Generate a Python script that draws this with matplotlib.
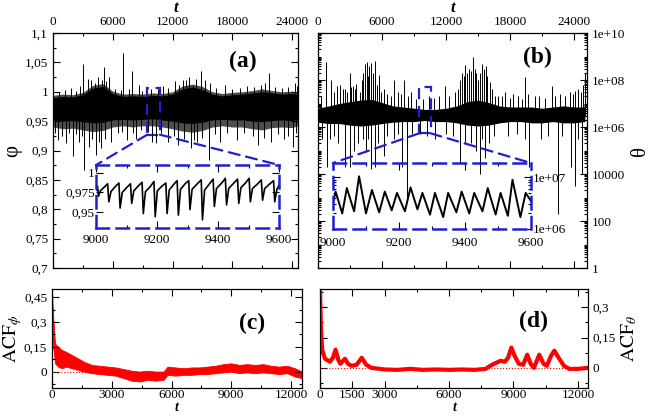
import numpy as np
import matplotlib.pyplot as plt
from matplotlib.patches import Rectangle, ConnectionPatch
from matplotlib.ticker import FixedLocator, MultipleLocator, LogLocator, NullFormatter

plt.rcParams['font.family'] = ['Liberation Serif', 'DejaVu Serif']
plt.rcParams['mathtext.fontset'] = 'stix'

# ---------------- (a) phi(t) ----------------
phi_t = [0, 1000, 2000, 3000, 4000, 5000, 6000, 7000, 8000, 9000, 10000, 11000, 12000,
         13000, 14000, 15000, 16000, 17000, 18000, 19000, 20000, 21000, 22000, 23000, 24000, 24600]
phi_core_hi = [.990, .992, .991, .995, 1.006, 1.009, .997, .992, .993, .992, .994, .993, .996,
               1.005, 1.008, 1.004, .996, .993, .995, .996, .998, 1.000, .998, .996, .997, .995]
phi_core_lo = [.952, .950, .951, .949, .947, .948, .952, .953, .952, .953, .954, .952, .950,
               .947, .946, .948, .952, .953, .952, .952, .950, .949, .951, .952, .951, .953]
phi_outer_hi = [.994, .996, .995, .999, 1.011, 1.014, 1.001, .996, .997, .996, .998, .997, 1.000,
                1.010, 1.013, 1.009, 1.000, .997, .999, 1.000, 1.002, 1.005, 1.002, 1.000, 1.001, .999]
phi_outer_lo = [.940, .937, .938, .935, .932, .934, .940, .942, .940, .942, .942, .940, .937,
                .933, .931, .934, .940, .942, .940, .940, .937, .935, .939, .940, .939, .942]
phi_up_t = [1800, 3000, 3500, 4200, 5100, 5600, 7050, 7950, 8600, 11000, 12200, 13400, 14100,
            14900, 17300, 19500, 21700, 23600, 24300,
            600, 1200, 2300, 2700, 3800, 4500, 4900, 5300, 6200, 6800, 7600, 8900, 9800, 10500,
            11500, 12700, 13100, 13700, 14400, 15300, 15800, 16400, 18000, 18800, 20200, 20900,
            21300, 22300, 23000, 24500]
phi_up_v = [1.006, 1.048, 1.022, 1.015, 1.042, 1.025, 1.066, 1.036, 1.012, 1.010, 1.018, 1.020, 1.012,
            1.035, 1.012, 1.010, 1.032, 1.008, 1.015,
            1.000, 1.003, 1.002, 1.010, 1.020, 1.025, 1.020, 1.018, 1.005, 1.003, 1.004, 1.002, 1.005, 1.004,
            1.006, 1.012, 1.020, 1.025, 1.022, 1.020, 1.015, 1.006, 1.005, 1.007, 1.008, 1.012,
            1.015, 1.008, 1.006, 1.010]
phi_dn_t = [500, 1300, 1970, 2600, 3100, 3600, 4300, 4800, 5800, 7400, 8300, 9900, 10300, 11500,
            12600, 13900, 14500, 15700, 16800, 18500, 20600, 21900, 23200, 24100,
            200, 900, 1600, 2300, 2900, 3900, 4600, 5200, 6500, 6900, 8000, 8800, 9500, 10800,
            12100, 13200, 14200, 15000, 16300, 17500, 19200, 20100, 21200, 22600, 23600, 24400]
phi_dn_v = [.918, .913, .890, .915, .867, .906, .893, .905, .915, .918, .920, .915, .912, .915,
            .910, .905, .915, .884, .915, .918, .910, .915, .920, .906,
            .930, .925, .930, .928, .925, .920, .915, .920, .930, .932, .930, .935, .932, .930,
            .925, .920, .918, .922, .928, .930, .930, .925, .922, .928, .925, .930]
phi_spike_base = 0.97

# inset (a): 9000-9600
phi_in_t = [9000, 9005, 9008, 9014, 9025, 9038, 9042, 9049, 9062, 9075, 9079, 9086, 9100, 9113,
            9117, 9124, 9138, 9151, 9155, 9162, 9177, 9190, 9194, 9201, 9216, 9229, 9233, 9240,
            9254, 9266, 9270, 9277, 9292, 9304, 9308, 9315, 9332, 9345, 9349, 9356, 9372, 9384,
            9388, 9395, 9412, 9424, 9428, 9435, 9452, 9464, 9468, 9475, 9490, 9502, 9506, 9513,
            9530, 9542, 9546, 9553, 9570, 9582, 9586, 9593, 9600]
phi_in_v = [.978, .983, .970, .977, .981, .986, .963, .976, .982, .987, .955, .975, .981, .986,
            .961, .977, .983, .988, .948, .976, .982, .989, .944, .977, .983, .987, .948, .978,
            .985, .990, .946, .979, .986, .990, .953, .979, .986, .991, .940, .978, .986, .992,
            .957, .980, .987, .993, .959, .980, .987, .992, .961, .981, .987, .993, .963, .980,
            .986, .991, .965, .980, .986, .990, .963, .979, .984]

# ---------------- (b) theta(t) ----------------
theta_t = [0, 1000, 2000, 3000, 4000, 5000, 6000, 7000, 8000, 9000, 10000, 11000, 12000,
           13000, 14000, 15000, 16000, 17000, 18000, 19000, 20000, 21000, 22000, 23000, 24000, 25000]
theta_core_hi = [6.3e6, 7.9e6, 1.0e7, 1.2e7, 1.4e7, 1.5e7, 1.1e7, 7.9e6, 7.1e6, 6.3e6, 5.6e6, 5.6e6, 6.3e6,
                 7.9e6, 1.2e7, 1.4e7, 1.1e7, 7.9e6, 7.1e6, 7.1e6, 7.1e6, 6.3e6, 7.1e6, 7.9e6, 7.1e6, 7.1e6]
theta_core_lo = [1.6e6, 1.4e6, 1.4e6, 1.2e6, 1.1e6, 1.2e6, 1.4e6, 1.6e6, 1.7e6, 1.7e6, 1.9e6, 1.7e6, 1.7e6,
                 1.5e6, 1.2e6, 1.1e6, 1.2e6, 1.5e6, 1.7e6, 1.7e6, 1.5e6, 1.5e6, 1.7e6, 1.5e6, 1.5e6, 1.7e6]
theta_up_t = [760, 1240, 1780, 2100, 2500, 2950, 3300, 3600, 3900, 4400, 4600, 4800, 5000, 5330,
              5680, 6200, 7100, 8100, 8700, 10400, 11870, 12800, 13500, 13800, 14100, 14540, 14800,
              15400, 15700, 16100, 16600, 17500, 18250, 19420, 20300, 21900, 22700, 23600, 24100,
              24600, 25000,
              300, 1500, 2300, 2700, 3100, 3450, 4100, 4250, 4700, 5150, 5500, 5900, 6500, 6800,
              7500, 7800, 8400, 9200, 9800, 10900, 11300, 12300, 13100, 13300, 13650, 13950, 14300,
              14700, 15000, 15200, 15550, 15850, 16300, 16900, 17200, 18000, 18700, 19100, 19700,
              20700, 21300, 22200, 23100, 23900, 24400, 24800]
theta_up_v = [6e8, 1e8, 5.5e7, 6e7, 4e7, 2e8, 5.5e7, 7e7, 3e7, 5e8, 6e8, 4e8, 5.5e8, 6.3e8,
              1.6e8, 4e7, 1e8, 1e8, 3e7, 2e7, 5.5e7, 3e7, 2e8, 4.5e8, 3e8, 1e9, 2e8,
              5e8, 4e8, 8e7, 2e7, 3e7, 2.5e7, 1.3e8, 2e7, 5.5e7, 2.5e7, 3e7, 3.5e7,
              3e7, 2e8,
              2e7, 3e7, 4e7, 3e7, 5e7, 4e7, 1e8, 2e8, 1.5e8, 2e8, 6e7, 3e7, 2.5e7, 2e7,
              3e7, 2.5e7, 2e7, 1.6e7, 1.5e7, 1.8e7, 2e7, 2e7, 4e7, 1e8, 1.5e8, 2e8, 2.5e8,
              3e8, 1e8, 2e8, 3e8, 1.5e8, 4e7, 2e7, 2e7, 1.8e7, 2e7, 1.5e7, 2.5e7,
              2e7, 1.8e7, 2e7, 2e7, 2.5e7, 4e7, 6e7]
theta_dn_t = [850, 1100, 2500, 2950, 3400, 4200, 5000, 5300, 6150, 7100, 7900, 8380, 11000,
              13330, 14300, 15200, 15600, 16000, 19800, 20900, 22500, 23700, 24100, 24700,
              400, 1500, 1900, 3700, 4500, 4700, 5600, 6500, 7500, 8800, 9600, 10200, 12000,
              12600, 13800, 14800, 15400, 16500, 17800, 18600, 19400, 21500, 22900, 24400]
theta_dn_v = [2e4, 3e5, 2e4, 2e4, 1e5, 3e5, 1.6e4, 2e4, 6e4, 3e5, 2e4, 1e3, 3e5,
              3e4, 2e5, 1e4, 5e4, 2e5, 2e4, 3e5, 2e2, 2e4, 3e3, 1e4,
              3e5, 4e5, 2e5, 2e5, 1e5, 3e5, 2e5, 4e5, 5e5, 5e5, 5e5, 4e5, 5e5,
              4e5, 2e5, 1e5, 3e5, 4e5, 4e5, 5e5, 3e5, 4e5, 4e5, 3e5]
theta_spike_base = 3e6

# inset (b): 9000-9600
theta_in_t = [9000, 9008, 9028, 9042, 9064, 9079, 9100, 9118, 9140, 9157, 9178, 9194, 9218, 9235,
              9256, 9271, 9294, 9309, 9334, 9349, 9374, 9390, 9413, 9428, 9453, 9469, 9493, 9508,
              9530, 9544, 9568, 9584, 9600]
theta_in_v = [3.2e6, 5.3e6, 2.0e6, 6.2e6, 2.2e6, 1.05e7, 2.0e6, 5.7e6, 2.1e6, 5.3e6, 2.3e6, 5.0e6,
              2.2e6, 6.4e6, 2.4e6, 5.0e6, 1.9e6, 5.0e6, 1.7e6, 5.0e6, 2.1e6, 5.3e6, 2.0e6, 5.0e6,
              2.2e6, 6.2e6, 1.9e6, 5.0e6, 1.8e6, 9.0e6, 1.7e6, 5.0e6, 3.5e6]

# ---------------- (c) ACF of phi ----------------
acf_phi_t = [0, 60, 150, 300, 500, 700, 1000, 1300, 1600, 2000, 2400, 2800, 3200, 3600, 4000, 4400,
             4800, 5200, 5600, 5800, 6200, 6600, 7000, 7400, 7800, 8200, 8600, 9000, 9400, 9800,
             10200, 10600, 11000, 11400, 11800, 12200, 12550]
acf_phi_hi = [0.48, 0.33, 0.17, 0.15, 0.13, 0.12, 0.10, 0.08, 0.06, 0.04, 0.035, 0.03, 0.025, 0.015,
              0.005, 0.0, 0.005, 0.0, 0.0, 0.03, 0.025, 0.02, 0.025, 0.025, 0.03, 0.035, 0.045, 0.05,
              0.04, 0.045, 0.04, 0.045, 0.035, 0.03, 0.035, 0.02, 0.0]
acf_phi_lo = [0.40, 0.15, 0.05, 0.03, 0.02, 0.03, 0.02, 0.01, 0.0, -0.01, -0.015, -0.02, -0.025, -0.04,
              -0.055, -0.06, -0.05, -0.055, -0.05, -0.02, -0.025, -0.02, -0.02, -0.015, -0.015, -0.01,
              -0.005, 0.0, -0.01, -0.005, -0.01, -0.005, -0.01, -0.015, -0.01, -0.03, -0.04]

# ---------------- (d) ACF of theta ----------------
acf_theta_t = [0, 40, 100, 230, 460, 600, 720, 850, 950, 1160, 1300, 1470, 1700, 1940, 2150, 2400,
               3000, 3600, 4200, 4800, 5400, 6000, 6600, 7200, 7700, 8000, 8200, 8400, 8600, 8750,
               8900, 9050, 9250, 9450, 9640, 9800, 9950, 10200, 10400, 10550, 10750, 10900, 11100,
               11350, 11600, 12000, 12470]
acf_theta_v = [0.38, 0.2, 0.09, 0.045, 0.03, 0.05, 0.09, 0.04, 0.02, 0.045, 0.02, 0.01, 0.015, 0.05,
               0.015, 0.0, -0.008, -0.01, -0.005, -0.01, -0.008, -0.01, -0.008, -0.01, -0.005, 0.015,
               0.025, 0.035, 0.03, 0.05, 0.1, 0.06, 0.02, 0.015, 0.065, 0.02, 0.0, 0.065, 0.02, 0.01,
               0.06, 0.085, 0.05, 0.01, -0.005, -0.005, 0.0]

BLUE = '#2020d0'
DASH = (0, (5, 3))


def style(ax):
    ax.tick_params(which='both', direction='in', top=True, right=True, labelsize=9.5, width=0.8)
    ax.tick_params(which='major', length=5)
    ax.tick_params(which='minor', length=2.5)
    for s in ax.spines.values():
        s.set_linewidth(0.9)


def dashed_frame(ax):
    for s in ax.spines.values():
        s.set_edgecolor(BLUE)
        s.set_linestyle(DASH)
        s.set_linewidth(1.8)


fig = plt.figure(figsize=(6.51, 4.2), dpi=100)

# ---- panel (a)
ax_a = fig.add_axes([0.0814, 0.3619, 0.3764, 0.5595])
ax_a.fill_between(phi_t, phi_outer_lo, phi_outer_hi, color='0.3', lw=0)
ax_a.fill_between(phi_t, phi_core_lo, phi_core_hi, color='black', lw=0)
ax_a.vlines(phi_up_t, phi_spike_base, phi_up_v, color='black', lw=0.7)
ax_a.vlines(phi_dn_t, phi_dn_v, phi_spike_base, color='black', lw=0.7)
ax_a.set_xlim(0, 24600)
ax_a.set_ylim(0.7, 1.1)
ax_a.xaxis.set_major_locator(FixedLocator([0, 6000, 12000, 18000, 24000]))
ax_a.xaxis.set_minor_locator(MultipleLocator(3000))
ax_a.yaxis.set_major_locator(FixedLocator([0.7, 0.75, 0.8, 0.85, 0.9, 0.95, 1.0, 1.05, 1.1]))
ax_a.set_yticklabels(['0,7', '0,75', '0,8', '0,85', '0,9', '0,95', '1', '1,05', '1,1'])
ax_a.yaxis.set_minor_locator(MultipleLocator(0.025))
style(ax_a)
ax_a.tick_params(labeltop=True, labelbottom=False)
ax_a.xaxis.set_label_position('top')
ax_a.set_xlabel('t', fontsize=12, style='italic', fontweight='bold', labelpad=3)
ax_a.set_ylabel('φ', fontsize=15, labelpad=2)
ax_a.text(0.776, 0.877, '(a)', transform=ax_a.transAxes, fontsize=17, fontweight='bold',
          ha='center', va='center')
ax_a.add_patch(Rectangle((9470, 0.927), 1260, 0.079, fill=False, ec=BLUE, lw=1.6, ls=DASH))

ins_a = fig.add_axes([0.1475, 0.4571, 0.2811, 0.15])
ins_a.set_facecolor('none')
ins_a.plot(phi_in_t, phi_in_v, color='black', lw=1.2)
ins_a.set_xlim(9000, 9600)
ins_a.set_ylim(0.9295, 1.010)
ins_a.xaxis.set_major_locator(FixedLocator([9000, 9200, 9400, 9600]))
ins_a.xaxis.set_minor_locator(MultipleLocator(100))
ins_a.yaxis.set_major_locator(FixedLocator([0.95, 0.975, 1.0]))
ins_a.set_yticklabels(['0,95', '0,975', '1'])
style(ins_a)
ins_a.tick_params(axis='y', pad=1)
ins_a.tick_params(axis='x', pad=4)
dashed_frame(ins_a)
for xa, xb in [(9470, 0), (10730, 1)]:
    fig.add_artist(ConnectionPatch(xyA=(xa, 0.927), coordsA=ax_a.transData, xyB=(xb, 1),
                                   coordsB=ins_a.transAxes, color=BLUE, lw=1.6, ls=DASH))

# ---- panel (b)
ax_b = fig.add_axes([0.4885, 0.3619, 0.4132, 0.5595])
ax_b.fill_between(theta_t, theta_core_lo, theta_core_hi, color='black', lw=0)
ax_b.vlines(theta_up_t, theta_spike_base, theta_up_v, color='black', lw=0.7)
ax_b.vlines(theta_dn_t, theta_dn_v, theta_spike_base, color='black', lw=0.7)
ax_b.set_yscale('log')
ax_b.set_xlim(0, 25200)
ax_b.set_ylim(1, 1e10)
ax_b.xaxis.set_major_locator(FixedLocator([0, 6000, 12000, 18000, 24000]))
ax_b.xaxis.set_minor_locator(MultipleLocator(3000))
ax_b.yaxis.set_major_locator(FixedLocator([1, 1e2, 1e4, 1e6, 1e8, 1e10]))
ax_b.set_yticklabels(['1', '100', '10000', '1e+06', '1e+08', '1e+10'])
ax_b.yaxis.set_minor_locator(LogLocator(base=10, subs=np.arange(1, 10), numticks=100))
ax_b.yaxis.set_minor_formatter(NullFormatter())
style(ax_b)
ax_b.tick_params(labeltop=True, labelbottom=False, labelleft=False, labelright=True)
ax_b.xaxis.set_label_position('top')
ax_b.set_xlabel('t', fontsize=12, style='italic', fontweight='bold', labelpad=3)
ax_b.yaxis.set_label_position('right')
ax_b.set_ylabel('θ', fontsize=15, labelpad=4)
ax_b.text(0.814, 0.894, '(b)', transform=ax_b.transAxes, fontsize=17, fontweight='bold',
          ha='center', va='center')
ax_b.add_patch(Rectangle((9490, 5.4e5), 1050, 5.1e7 - 5.4e5, fill=False, ec=BLUE, lw=1.6, ls=DASH))

ins_b = fig.add_axes([0.5115, 0.4548, 0.3041, 0.1571])
ins_b.set_facecolor('none')
ins_b.plot(theta_in_t, theta_in_v, color='black', lw=1.4)
ins_b.set_yscale('log')
ins_b.set_xlim(9000, 9600)
ins_b.set_ylim(1e6, 1.9e7)
ins_b.xaxis.set_major_locator(FixedLocator([9000, 9200, 9400, 9600]))
ins_b.xaxis.set_minor_locator(MultipleLocator(100))
ins_b.yaxis.set_major_locator(FixedLocator([1e6, 1e7]))
ins_b.set_yticklabels(['1e+06', '1e+07'])
ins_b.yaxis.set_minor_locator(LogLocator(base=10, subs=np.arange(1, 10), numticks=100))
ins_b.yaxis.set_minor_formatter(NullFormatter())
style(ins_b)
ins_b.tick_params(labelleft=False, labelright=True)
ins_b.tick_params(axis='y', pad=1)
ins_b.tick_params(axis='x', pad=6)
dashed_frame(ins_b)
for xa, xb in [(9490, 0), (10540, 1)]:
    fig.add_artist(ConnectionPatch(xyA=(xa, 5.4e5), coordsA=ax_b.transData, xyB=(xb, 1),
                                   coordsB=ins_b.transAxes, color=BLUE, lw=1.6, ls=DASH))

# ---- panel (c)
ax_c = fig.add_axes([0.0799, 0.076, 0.384, 0.236])
ax_c.axhline(0, color='red', ls=':', lw=0.8)
ax_c.fill_between(acf_phi_t, acf_phi_lo, acf_phi_hi, color='red', lw=0.6, ec='red')
ax_c.set_xlim(0, 12550)
ax_c.set_ylim(-0.1, 0.5)
ax_c.xaxis.set_major_locator(FixedLocator([0, 3000, 6000, 9000, 12000]))
ax_c.xaxis.set_minor_locator(MultipleLocator(1500))
ax_c.yaxis.set_major_locator(FixedLocator([0, 0.15, 0.3, 0.45]))
ax_c.set_yticklabels(['0', '0,15', '0,3', '0,45'])
ax_c.yaxis.set_minor_locator(MultipleLocator(0.075))
style(ax_c)
ax_c.tick_params(axis='x', pad=1)
ax_c.set_xlabel('t', fontsize=10, style='italic', fontweight='bold', labelpad=0)
ax_c.set_ylabel(r'$\mathrm{ACF}_{\phi}$', fontsize=14, labelpad=0)
ax_c.text(0.8, 0.647, '(c)', transform=ax_c.transAxes, fontsize=17, fontweight='bold',
          ha='center', va='center')

# ---- panel (d)
ax_d = fig.add_axes([0.4916, 0.076, 0.4117, 0.236])
ax_d.axhline(0, color='red', ls=':', lw=0.8)
ax_d.plot(acf_theta_t, acf_theta_v, color='red', lw=3)
ax_d.set_xlim(0, 12470)
ax_d.set_ylim(-0.1, 0.39)
ax_d.xaxis.set_major_locator(FixedLocator([0, 1500, 3000, 6000, 9000, 12000]))
ax_d.xaxis.set_minor_locator(MultipleLocator(1500))
ax_d.yaxis.set_major_locator(FixedLocator([0, 0.15, 0.3]))
ax_d.set_yticklabels(['0', '0,15', '0,3'])
ax_d.yaxis.set_minor_locator(MultipleLocator(0.075))
style(ax_d)
ax_d.tick_params(labelleft=False, labelright=True)
ax_d.tick_params(axis='x', pad=1)
ax_d.set_xlabel('t', fontsize=10, style='italic', fontweight='bold', labelpad=0)
ax_d.yaxis.set_label_position('right')
ax_d.set_ylabel(r'$\mathrm{ACF}_{\theta}$', fontsize=14, labelpad=2)
ax_d.text(0.795, 0.676, '(d)', transform=ax_d.transAxes, fontsize=17, fontweight='bold',
          ha='center', va='center')

fig.savefig('out.png', dpi=100)
